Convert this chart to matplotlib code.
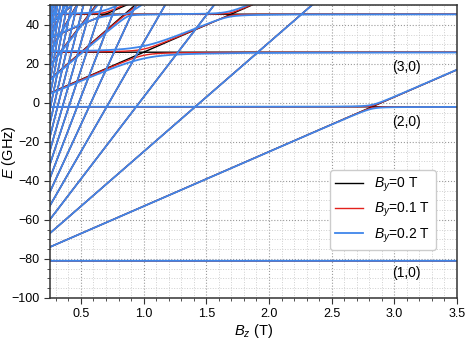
import numpy as np
import matplotlib.pyplot as plt
from matplotlib.ticker import MultipleLocator

# zero-field levels (n,0) (GHz)
level_names = ['(1,0)', '(2,0)', '(3,0)']
level_E = [-81.0, -2.0, 26.0, 45.5]
# highest Zeeman branch k kept for each level
k_max = [20, 9, 5, 2]
# slope of one Zeeman step (GHz/T)
zeeman_slope = 28.0
# off-diagonal coupling between (n,k+1) and (n',k), GHz per T of By
couple_pairs = [(0, 1), (1, 2), (1, 3), (2, 3)]
couple_g = [5.0, 16.0, 7.0, 8.0]

by_values = [0.0, 0.1, 0.2]
by_colors = ['black', '#e3211c', '#3f86ea']
by_widths = [1.0, 1.0, 1.3]

bz = np.linspace(0.25, 3.5, 1300)

plt.rcParams['font.family'] = ['Liberation Sans', 'DejaVu Sans']
plt.rcParams['mathtext.fontset'] = 'custom'
plt.rcParams['mathtext.it'] = 'Liberation Sans:italic'
plt.rcParams['mathtext.rm'] = 'Liberation Sans'


def spectrum(by):
    states = [(n, k) for n in range(len(level_E)) for k in range(k_max[n] + 1)]
    N = len(states)
    V = np.zeros((N, N))
    for (a, b), g in zip(couple_pairs, couple_g):
        for i, (n1, k1) in enumerate(states):
            for j, (n2, k2) in enumerate(states):
                if n1 == a and n2 == b and k1 == k2 + 1:
                    V[i, j] = V[j, i] = g * by
    e0 = np.array([level_E[n] for n, k in states])
    kk = np.array([k for n, k in states])
    H = np.zeros((len(bz), N, N)) + V
    idx = np.arange(N)
    H[:, idx, idx] = e0[None, :] + zeeman_slope * kk[None, :] * bz[:, None]
    return np.linalg.eigvalsh(H)


fig = plt.figure(figsize=(4.68, 3.4), dpi=100)
ax = fig.add_axes([0.106, 0.124, 0.8705, 0.86])

for by, c, w in zip(by_values, by_colors, by_widths):
    ev = spectrum(by)
    for i in range(ev.shape[1]):
        ax.plot(bz, ev[:, i], color=c, lw=w, label=f'$B_y$={by:g} T' if i == 0 else None)

ax.set_xlim(0.25, 3.5)
ax.set_ylim(-100, 50)
ax.xaxis.set_major_locator(MultipleLocator(0.5))
ax.xaxis.set_minor_locator(MultipleLocator(0.1))
ax.yaxis.set_major_locator(MultipleLocator(20))
ax.yaxis.set_minor_locator(MultipleLocator(5))
ax.grid(which='major', ls=':', color='#9a9a9a', lw=0.8)
ax.grid(which='minor', ls=':', color='#cfcfcf', lw=0.7)
ax.set_axisbelow(True)
ax.tick_params(which='both', direction='out', labelsize=9, color='#333333')
ax.tick_params(which='major', length=4)
ax.tick_params(which='minor', length=2.5)
for s in ax.spines.values():
    s.set_linewidth(1.1)
    s.set_color('#333333')

ax.set_xlabel('$B_z$ (T)', fontsize=10.5, labelpad=1)
ax.set_ylabel('$E$ (GHz)', fontsize=10.5)
ax.yaxis.set_label_coords(-0.078, 0.5)

for name, y in zip(level_names, [-87.3, -9.6, 18.6]):
    ax.text(3.1, y, name, fontsize=10, ha='center', va='center')

ax.legend(loc='center right', bbox_to_anchor=(0.965, 0.30), fontsize=10,
          handlelength=2.0, frameon=True, edgecolor='#cccccc', framealpha=1)

fig.savefig('out.png', dpi=100)
